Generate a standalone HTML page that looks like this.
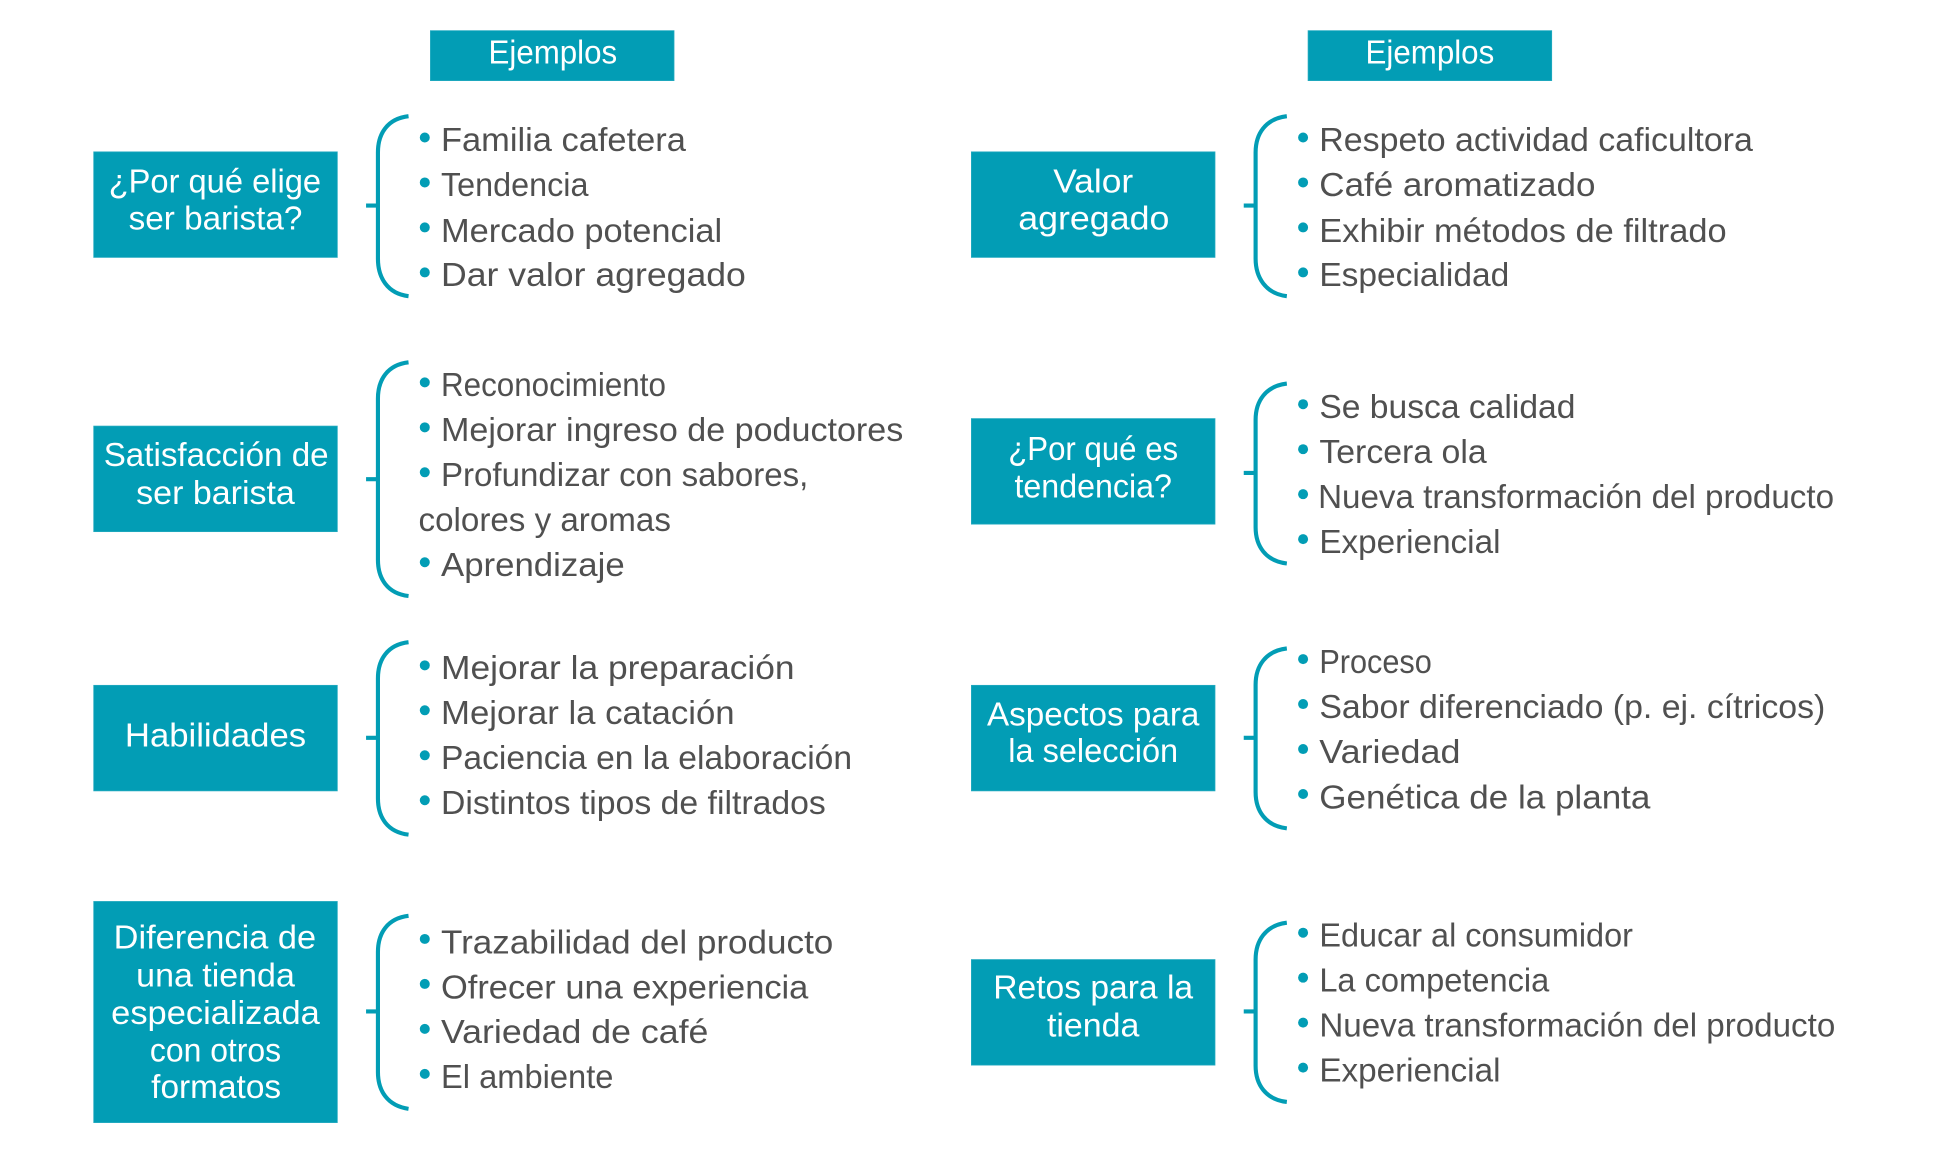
<!DOCTYPE html>
<html lang="es"><head><meta charset="utf-8"><title>Ejemplos</title>
<style>
html,body{margin:0;padding:0;background:#fff}
svg{display:block}
.t{font-family:"Liberation Sans",sans-serif;font-size:27px;fill:#505050}
.w{font-family:"Liberation Sans",sans-serif;font-size:27px;fill:#fff}
.b{fill:#029db5;stroke:#25abc0;stroke-width:.6}
.k{fill:none;stroke:#029db5;stroke-width:3.300}
.d{fill:#029db5}
</style></head><body>
<svg xmlns="http://www.w3.org/2000/svg" width="1959" height="1152" viewBox="0 0 1568 922">
<rect class="b" x="344.500" y="24.500" width="195" height="40"/>
<rect class="b" x="1047" y="24.500" width="195" height="40"/>
<rect class="b" x="75" y="121.500" width="195" height="84.500"/>
<rect class="b" x="75" y="341" width="195" height="84.500"/>
<rect class="b" x="75" y="548.500" width="195" height="84.500"/>
<rect class="b" x="75" y="721.500" width="195" height="177"/>
<rect class="b" x="777.500" y="121.500" width="195" height="84.500"/>
<rect class="b" x="777.500" y="335" width="195" height="84.500"/>
<rect class="b" x="777.500" y="548.500" width="195" height="84.500"/>
<rect class="b" x="777.500" y="768" width="195" height="84.500"/>

<path class="k" d="M327 93C310 95 302.500 107 302.500 122V207C302.500 222 310 235 327 237M293 164.500H302.500"/>
<path class="k" d="M327 290C310 292 302.500 304 302.500 319V448C302.500 463 310 475 327 477M293 383.500H302.500"/>
<path class="k" d="M327 514C310 516 302.500 528 302.500 543V639C302.500 654 310 666 327 668M293 590.500H302.500"/>
<path class="k" d="M327 733C310 735 302.500 747 302.500 762V858C302.500 873 310 885 327 887.500M293 809.500H302.500"/>
<path class="k" d="M1030 93C1013 95 1005 107 1005 122V207C1005 222 1013 235 1030 237M995.500 164.500H1005"/>
<path class="k" d="M1030 307C1013 309 1005 321 1005 336V422C1005 437 1013 449 1030 451M995.500 378.500H1005"/>
<path class="k" d="M1030 519C1013 521 1005 533 1005 548V634C1005 649 1013 661 1030 663M995.500 590.500H1005"/>
<path class="k" d="M1030 738.500C1013 740.500 1005 753 1005 768V853C1005 868 1013 880 1030 882M995.500 809.500H1005"/>

<g class="d">
<circle cx="340" cy="110" r="4"/><circle cx="340" cy="146" r="4"/><circle cx="340" cy="182" r="4"/><circle cx="340" cy="218" r="4"/>
<circle cx="340" cy="306" r="4"/><circle cx="340" cy="342" r="4"/><circle cx="340" cy="378" r="4"/><circle cx="340" cy="450" r="4"/>
<circle cx="340" cy="532.500" r="4"/><circle cx="340" cy="568.500" r="4"/><circle cx="340" cy="604.500" r="4"/><circle cx="340" cy="640.500" r="4"/>
<circle cx="340" cy="751.500" r="4"/><circle cx="340" cy="787.500" r="4"/><circle cx="340" cy="823.500" r="4"/><circle cx="340" cy="859.500" r="4"/>
<circle cx="1043" cy="110" r="4"/><circle cx="1043" cy="146" r="4"/><circle cx="1043" cy="182" r="4"/><circle cx="1043" cy="218" r="4"/>
<circle cx="1043" cy="323.500" r="4"/><circle cx="1043" cy="359.500" r="4"/><circle cx="1043" cy="395.500" r="4"/><circle cx="1043" cy="431.500" r="4"/>
<circle cx="1043" cy="527.500" r="4"/><circle cx="1043" cy="563.500" r="4"/><circle cx="1043" cy="599.500" r="4"/><circle cx="1043" cy="635.500" r="4"/>
<circle cx="1043" cy="746.500" r="4"/><circle cx="1043" cy="782.500" r="4"/><circle cx="1043" cy="818.500" r="4"/><circle cx="1043" cy="854.500" r="4"/>
</g>

<g>
<text class="w" x="391" y="51" textLength="103" lengthAdjust="spacingAndGlyphs">Ejemplos</text>
<text class="w" x="1093" y="51" textLength="103" lengthAdjust="spacingAndGlyphs">Ejemplos</text>
<text class="w" x="87" y="154" textLength="170" lengthAdjust="spacingAndGlyphs">¿Por qué elige</text>
<text class="w" x="103" y="183.500" textLength="139" lengthAdjust="spacingAndGlyphs">ser barista?</text>
<text class="w" x="83" y="373" textLength="180" lengthAdjust="spacingAndGlyphs">Satisfacción de</text>
<text class="w" x="109" y="403.500" textLength="127" lengthAdjust="spacingAndGlyphs">ser barista</text>
<text class="w" x="100" y="597.500" textLength="145" lengthAdjust="spacingAndGlyphs">Habilidades</text>
<text class="w" x="91" y="759" textLength="162" lengthAdjust="spacingAndGlyphs">Diferencia de</text>
<text class="w" x="109" y="789.500" textLength="127" lengthAdjust="spacingAndGlyphs">una tienda</text>
<text class="w" x="89" y="819.500" textLength="167" lengthAdjust="spacingAndGlyphs">especializada</text>
<text class="w" x="120" y="849.500" textLength="105" lengthAdjust="spacingAndGlyphs">con otros</text>
<text class="w" x="121" y="879" textLength="104" lengthAdjust="spacingAndGlyphs">formatos</text>
<text class="w" x="843" y="154" textLength="64" lengthAdjust="spacingAndGlyphs">Valor</text>
<text class="w" x="815" y="183.500" textLength="121" lengthAdjust="spacingAndGlyphs">agregado</text>
<text class="w" x="807" y="368" textLength="136" lengthAdjust="spacingAndGlyphs">¿Por qué es</text>
<text class="w" x="812" y="398" textLength="126" lengthAdjust="spacingAndGlyphs">tendencia?</text>
<text class="w" x="790" y="580.500" textLength="170" lengthAdjust="spacingAndGlyphs">Aspectos para</text>
<text class="w" x="807" y="610" textLength="136" lengthAdjust="spacingAndGlyphs">la selección</text>
<text class="w" x="795" y="799" textLength="160" lengthAdjust="spacingAndGlyphs">Retos para la</text>
<text class="w" x="838" y="829.500" textLength="74" lengthAdjust="spacingAndGlyphs">tienda</text>

<text class="t" x="353" y="121" textLength="196" lengthAdjust="spacingAndGlyphs">Familia cafetera</text>
<text class="t" x="353" y="157" textLength="118" lengthAdjust="spacingAndGlyphs">Tendencia</text>
<text class="t" x="353" y="193.500" textLength="225" lengthAdjust="spacingAndGlyphs">Mercado potencial</text>
<text class="t" x="353" y="229" textLength="244" lengthAdjust="spacingAndGlyphs">Dar valor agregado</text>
<text class="t" x="353" y="317" textLength="180" lengthAdjust="spacingAndGlyphs">Reconocimiento</text>
<text class="t" x="353" y="353" textLength="370" lengthAdjust="spacingAndGlyphs">Mejorar ingreso de poductores</text>
<text class="t" x="353" y="389" textLength="294" lengthAdjust="spacingAndGlyphs">Profundizar con sabores,</text>
<text class="t" x="335" y="425" textLength="202" lengthAdjust="spacingAndGlyphs">colores y aromas</text>
<text class="t" x="353" y="461" textLength="147" lengthAdjust="spacingAndGlyphs">Aprendizaje</text>
<text class="t" x="353" y="543.500" textLength="283" lengthAdjust="spacingAndGlyphs">Mejorar la preparación</text>
<text class="t" x="353" y="579.500" textLength="235" lengthAdjust="spacingAndGlyphs">Mejorar la catación</text>
<text class="t" x="353" y="615.500" textLength="329" lengthAdjust="spacingAndGlyphs">Paciencia en la elaboración</text>
<text class="t" x="353" y="651.500" textLength="308" lengthAdjust="spacingAndGlyphs">Distintos tipos de filtrados</text>
<text class="t" x="353" y="763" textLength="314" lengthAdjust="spacingAndGlyphs">Trazabilidad del producto</text>
<text class="t" x="353" y="799" textLength="294" lengthAdjust="spacingAndGlyphs">Ofrecer una experiencia</text>
<text class="t" x="353" y="835" textLength="214" lengthAdjust="spacingAndGlyphs">Variedad de café</text>
<text class="t" x="353" y="871" textLength="138" lengthAdjust="spacingAndGlyphs">El ambiente</text>

<text class="t" x="1056" y="121" textLength="347" lengthAdjust="spacingAndGlyphs">Respeto actividad caficultora</text>
<text class="t" x="1056" y="157" textLength="221" lengthAdjust="spacingAndGlyphs">Café aromatizado</text>
<text class="t" x="1056" y="193.500" textLength="326" lengthAdjust="spacingAndGlyphs">Exhibir métodos de filtrado</text>
<text class="t" x="1056" y="229" textLength="152" lengthAdjust="spacingAndGlyphs">Especialidad</text>
<text class="t" x="1056" y="334.500" textLength="205" lengthAdjust="spacingAndGlyphs">Se busca calidad</text>
<text class="t" x="1056" y="370.500" textLength="134" lengthAdjust="spacingAndGlyphs">Tercera ola</text>
<text class="t" x="1055" y="406.500" textLength="413" lengthAdjust="spacingAndGlyphs">Nueva transformación del producto</text>
<text class="t" x="1056" y="442.500" textLength="145" lengthAdjust="spacingAndGlyphs">Experiencial</text>
<text class="t" x="1056" y="538.500" textLength="90" lengthAdjust="spacingAndGlyphs">Proceso</text>
<text class="t" x="1056" y="574.500" textLength="405" lengthAdjust="spacingAndGlyphs">Sabor diferenciado (p. ej. cítricos)</text>
<text class="t" x="1056" y="610.500" textLength="113" lengthAdjust="spacingAndGlyphs">Variedad</text>
<text class="t" x="1056" y="647" textLength="265" lengthAdjust="spacingAndGlyphs">Genética de la planta</text>
<text class="t" x="1056" y="757.500" textLength="251" lengthAdjust="spacingAndGlyphs">Educar al consumidor</text>
<text class="t" x="1056" y="793.500" textLength="184" lengthAdjust="spacingAndGlyphs">La competencia</text>
<text class="t" x="1056" y="829.500" textLength="413" lengthAdjust="spacingAndGlyphs">Nueva transformación del producto</text>
<text class="t" x="1056" y="865.500" textLength="145" lengthAdjust="spacingAndGlyphs">Experiencial</text>
</g>
</svg>
</body></html>
